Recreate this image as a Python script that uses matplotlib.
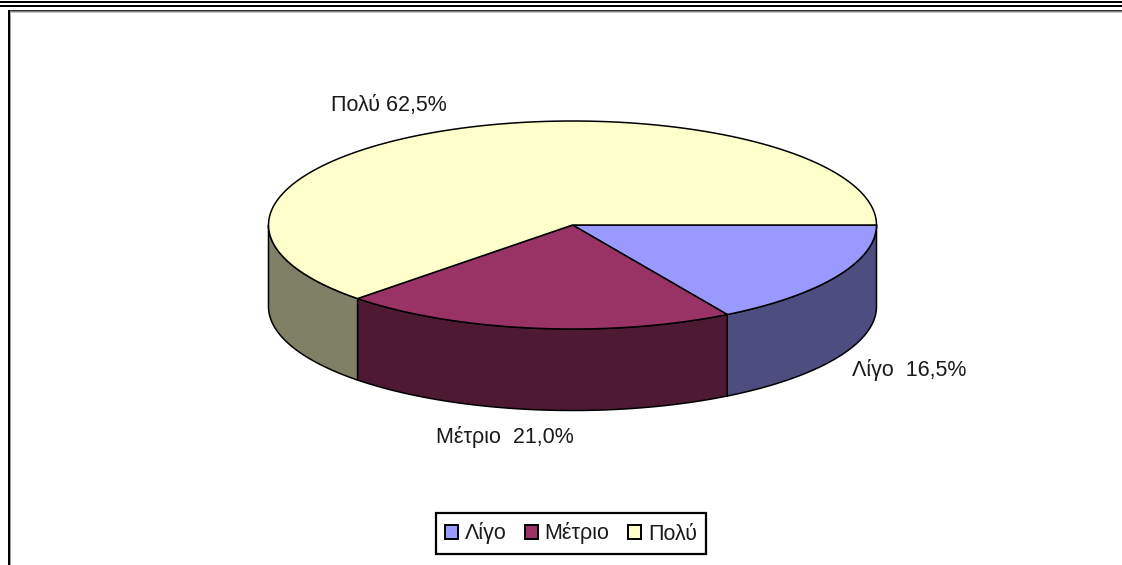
import numpy as np
import matplotlib
matplotlib.use("Agg")
import matplotlib.pyplot as plt
from matplotlib.patches import Polygon, Patch, Rectangle

plt.rcParams['font.family'] = ['Liberation Sans', 'DejaVu Sans']

categories = ['Λίγο', 'Μέτριο', 'Πολύ']
values = [16.5, 21.0, 62.5]
label_texts = ['Λίγο  16,5%', 'Μέτριο  21,0%', 'Πολύ 62,5%']
top_colors = ['#9999FF', '#993366', '#FFFFCC']
side_colors = ['#4D4D80', '#4D1933', '#808066']

W, H = 1122, 565
fig = plt.figure(figsize=(W / 100, H / 100), dpi=100, facecolor='white')
ax = fig.add_axes([0, 0, 1, 1])
ax.set_xlim(0, W)
ax.set_ylim(H, 0)
ax.axis('off')

cx, cy, rx, ry, depth = 572.5, 225, 304, 104, 81.5

def rim(a0, a1, n=120):
    t = np.radians(np.linspace(a0, a1, n))
    return np.column_stack([cx + rx * np.cos(t), cy + ry * np.sin(t)])

# angles run clockwise on screen because the y axis points downward
edges = np.concatenate([[0], np.cumsum(values)]) * 3.6

for i in range(len(values)):
    a0, a1 = edges[i], min(edges[i + 1], 180)
    if a0 >= a1:
        continue
    top = rim(a0, a1)
    ax.add_patch(Polygon(np.vstack([top, (top + [0, depth])[::-1]]), closed=True,
                         facecolor=side_colors[i], edgecolor='black', lw=1.1, zorder=2))

for i in range(len(values)):
    pts = np.vstack([[[cx, cy]], rim(edges[i], edges[i + 1])])
    ax.add_patch(Polygon(pts, closed=True, facecolor=top_colors[i],
                         edgecolor='black', lw=1.1, zorder=3))

label_pos = [(909, 376), (505, 443), (388.5, 111.5)]
for txt, (x, y) in zip(label_texts, label_pos):
    ax.text(x, y, txt, ha='center', va='baseline', fontsize=15.5, color='#1a1a1a', zorder=5)

handles = [Patch(facecolor=c, edgecolor='black', lw=1.4) for c in top_colors]
leg = ax.legend(handles, categories, loc='center', bbox_to_anchor=(571, 533.5),
                bbox_transform=ax.transData, ncol=3, frameon=True, fancybox=False,
                framealpha=1, edgecolor='black', fontsize=15.5, handlelength=0.6,
                handleheight=0.6, handletextpad=0.3, columnspacing=0.88,
                borderpad=0.44, borderaxespad=0, labelcolor='#1a1a1a')
leg.get_frame().set_linewidth(1.6)

# window frame: double rule on top, bevelled chart border on left and top
for y0 in (1, 5):
    ax.add_patch(Rectangle((0, y0), W, 2.2, facecolor='black', edgecolor='none', zorder=6))
ax.add_patch(Rectangle((8, 10), W - 8, 1.3, facecolor='#333333', edgecolor='none', zorder=6))
ax.add_patch(Rectangle((10, 11.3), W - 10, 1.0, facecolor='#808080', edgecolor='none', zorder=6))
ax.add_patch(Rectangle((10, 12.3), W - 10, 1.0, facecolor='#C8C8C8', edgecolor='none', zorder=6))
ax.add_patch(Rectangle((8, 10), 2, H - 10, facecolor='black', edgecolor='none', zorder=6))
ax.add_patch(Rectangle((10, 12), 1.2, H - 12, facecolor='#A0A0A0', edgecolor='none', zorder=6))

fig.savefig('out.png', dpi=100)
